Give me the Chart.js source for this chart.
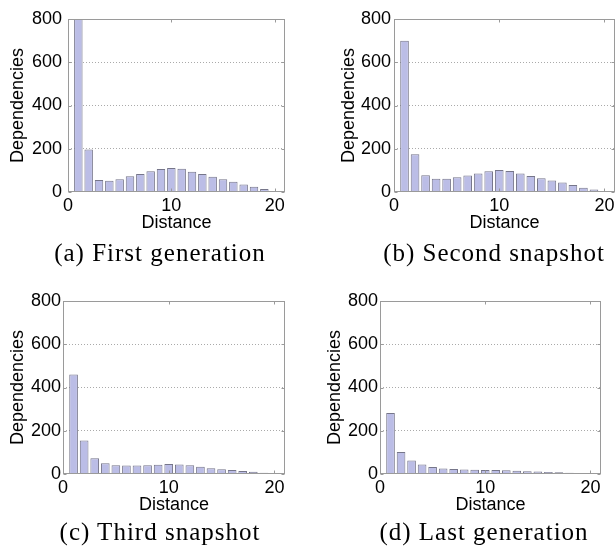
<!DOCTYPE html>
<html>
<head>
<meta charset="utf-8">
<script src="https://cdn.jsdelivr.net/npm/chart.js@4/dist/chart.umd.min.js"></script>
<style>
  html, body { margin: 0; padding: 0; background: #fff; }
  body { width: 616px; height: 546px; position: relative; overflow: hidden; }
  canvas { position: absolute; }
  .caption {
    position: absolute;
    width: 300px;
    text-align: center;
    font-family: 'Liberation Serif', 'Times New Roman', serif;
    font-size: 25px;
    line-height: 25px;
    letter-spacing: 1px;
    color: #000;
    white-space: nowrap;
  }
</style>
</head>
<body>
<canvas id="chartA" width="330" height="240" style="left:0px;top:0px"></canvas>
<canvas id="chartB" width="330" height="240" style="left:308px;top:0px"></canvas>
<canvas id="chartC" width="330" height="240" style="left:0px;top:282px"></canvas>
<canvas id="chartD" width="330" height="240" style="left:308px;top:282px"></canvas>
<div class="caption" style="left:10px;top:240px">(a) First generation</div>
<div class="caption" style="left:344px;top:240px">(b) Second snapshot</div>
<div class="caption" style="left:10px;top:519px">(c) Third snapshot</div>
<div class="caption" style="left:334px;top:519px">(d) Last generation</div>
<script>
'use strict';

var distances = [1, 2, 3, 4, 5, 6, 7, 8, 9, 10, 11, 12, 13, 14, 15, 16, 17, 18, 19, 20];
var firstGeneration = [820, 197, 56, 52, 59, 73, 83, 96, 106, 111, 108, 94, 83, 70, 59, 47, 35, 24, 14, 5];
var secondSnapshot = [700, 174, 77, 61, 61, 68, 76, 86, 96, 102, 97, 86, 74, 64, 53, 44, 32, 20, 11, 3];
var thirdSnapshot = [460, 155, 73, 50, 41, 39, 39, 40, 43, 46, 44, 40, 33, 27, 22, 18, 14, 10, 6, 2];
var lastGeneration = [282, 102, 63, 44, 32, 26, 23, 21, 20, 18, 18, 17, 15, 13, 11, 9, 8, 6, 3, 1];
var yTicks = [0, 200, 400, 600, 800];
var xTicks = [0, 10, 20];

(function figure () {
    var sans = 'Liberation Sans, Arial, Helvetica, sans-serif';
    var frameColor = '#9a9a9a';

    // matlab style box with inward tick marks
    var framePlugin = {
        id: 'frame',
        afterDatasetsDraw: function (chart) {
            var a = chart.chartArea;
            var ctx = chart.ctx;
            var xs = chart.scales.x;
            var ys = chart.scales.y;
            var l = Math.round(a.left) + 0.5;
            var r = Math.round(a.right) - 0.5;
            var t = Math.round(a.top) + 0.5;
            var b = Math.round(a.bottom) - 0.5;
            ctx.save();
            ctx.strokeStyle = frameColor;
            ctx.lineWidth = 1;
            ctx.strokeRect(l, t, r - l, b - t);
            ctx.beginPath();
            xTicks.forEach(function (v) {
                var px = Math.round(xs.getPixelForValue(v)) + 0.5;
                ctx.moveTo(px, b); ctx.lineTo(px, b - 3);
                ctx.moveTo(px, t); ctx.lineTo(px, t + 3);
            });
            yTicks.forEach(function (v) {
                var py = Math.round(ys.getPixelForValue(v)) + 0.5;
                ctx.moveTo(l, py); ctx.lineTo(l + 3, py);
                ctx.moveTo(r, py); ctx.lineTo(r - 3, py);
            });
            ctx.stroke();
            ctx.restore();
        }
    };

    function makeChart (id, values, p) {
        var ctx = document.getElementById(id).getContext('2d');
        return new Chart(ctx, {
            type: 'bar',
            data: {
                datasets: [{
                    data: distances.map(function (d, i) { return { x: d, y: values[i] }; }),
                    backgroundColor: '#bbbde6',
                    borderColor: '#76768a',
                    borderWidth: 1,
                    barPercentage: 0.82,
                    categoryPercentage: 1
                }]
            },
            options: {
                responsive: false,
                animation: false,
                devicePixelRatio: 1,
                layout: {
                    padding: { top: 19, right: 330 - p.right, left: 0, bottom: 0 }
                },
                plugins: {
                    legend: { display: false },
                    tooltip: { enabled: false }
                },
                scales: {
                    x: {
                        type: 'linear',
                        offset: false,
                        min: 0,
                        max: 21,
                        afterFit: function (scale) { scale.height = 48; },
                        grid: { display: false, drawTicks: false },
                        border: { display: false },
                        ticks: {
                            stepSize: 10,
                            includeBounds: false,
                            maxRotation: 0,
                            padding: 3,
                            color: '#000',
                            font: { family: sans, size: 18 }
                        },
                        title: {
                            display: true,
                            text: 'Distance',
                            color: '#000',
                            font: { family: sans, size: 18 },
                            padding: { top: 0, bottom: 6 }
                        }
                    },
                    y: {
                        min: 0,
                        max: 800,
                        afterFit: function (scale) { scale.width = p.left; },
                        grid: {
                            drawTicks: false,
                            color: function (c) {
                                return (c.tick && c.tick.value > 0 && c.tick.value < 800) ? '#aaaaaa' : 'rgba(0,0,0,0)';
                            }
                        },
                        border: { display: false, dash: [1, 2] },
                        ticks: {
                            stepSize: 200,
                            padding: p.tickPad,
                            color: '#000',
                            font: { family: sans, size: 18 }
                        },
                        title: {
                            display: true,
                            text: 'Dependencies',
                            color: '#000',
                            font: { family: sans, size: 18 },
                            padding: { top: p.titleX - 10.8, bottom: 0 }
                        }
                    }
                }
            },
            plugins: [framePlugin]
        });
    }

    makeChart('chartA', firstGeneration, { left: 68, right: 285, tickPad: 6, titleX: 18.5 });
    makeChart('chartB', secondSnapshot, { left: 86, right: 307, tickPad: 3, titleX: 41.5 });
    makeChart('chartC', thirdSnapshot, { left: 63, right: 285, tickPad: 2, titleX: 18.5 });
    makeChart('chartD', lastGeneration, { left: 72, right: 293, tickPad: 2, titleX: 26.7 });
}());
</script>
</body>
</html>
